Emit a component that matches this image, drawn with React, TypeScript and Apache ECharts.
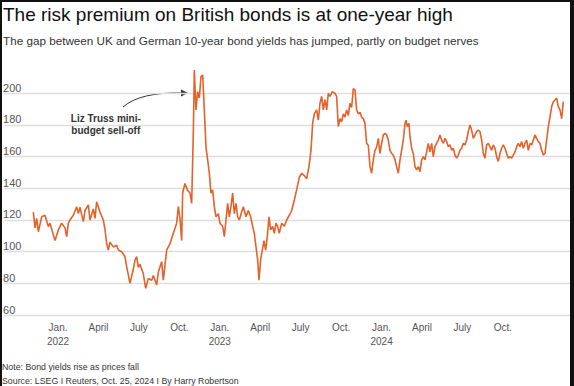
import React, { useEffect, useRef } from "react";
import * as echarts from "echarts";

// time index (~3.4 days per step, starting early Nov 2021) and UK-German 10y spread (bp)
const t = [
  0, 1, 2, 3, 5, 7, 9, 10, 12, 13, 15, 17, 19, 20, 21, 22, 24, 26, 27, 28, 30, 31, 33, 34, 36, 37, 38, 40,
  42, 43, 44, 45, 46, 48, 50, 51, 53, 55, 56, 58, 60, 61, 62, 63, 64, 66, 67.4, 69, 71, 72, 74, 75, 76, 77,
  78, 80, 82, 84, 86, 87, 88, 89, 89.6, 91, 92.4, 94, 95, 96, 96.6,
  97.6, 98.6, 99.6, 100.6, 101.6, 102.6, 103.6, 104.6, 105.6, 106.6, 107.6, 108.6, 109.6, 111, 112, 113.6,
  114.6, 115.6, 116.6, 117.6, 118.6, 119.6, 120.6, 121.6, 122.6, 123.6, 125, 126, 127.6, 129, 130.4, 131.6,
  132.6, 133.6, 134.6, 135.4, 136.4, 137.4, 138.4, 139.4, 140.4, 141.4, 142.4, 143.6, 144.6, 145.6, 146.6,
  147.6, 149, 150.6, 152, 153.6, 155, 156.6, 158, 159.6, 161, 162.6, 164, 165.4, 166.6, 167.6, 168.6, 170,
  171, 172, 173, 174, 175, 176, 177, 178, 179.4, 181, 182,
  183, 184, 185, 186, 187, 188, 189, 190, 191, 192, 193, 194, 195, 196, 197, 198, 199, 200, 201, 202, 203,
  204, 205, 206, 207, 208, 209, 210, 211, 212, 213, 214, 215, 216, 217, 218, 219, 220, 221, 222, 223, 223.6,
  224.4, 225.4, 226, 227, 228, 229, 230, 231, 232, 233, 234, 235, 236, 237, 238, 239, 240, 241, 242, 243,
  244, 245, 246, 247, 248, 249, 250, 251, 252, 253, 254, 255, 256, 257, 258, 259, 260, 261, 262, 263, 264,
  265, 266, 267, 268, 269, 270, 271, 272, 273, 274, 275, 276, 277, 278, 279, 280, 281, 282, 283, 284, 285,
  286, 287, 288, 289, 290, 291, 292, 293, 294, 295, 296, 297, 298, 299, 300, 301, 302, 303, 304, 305, 306,
  307, 308, 309, 310, 311, 312, 313, 314, 315, 316, 317, 318,
];

const spread = [
  125, 115, 121, 112.6, 122, 123, 115.8, 118, 110.5, 107, 113.7, 118, 115, 109.5, 118, 120, 123, 128.4, 124,
  128, 119, 126, 129.5, 120, 127, 121, 131.5, 125, 120, 114, 105, 101, 106, 103, 104, 101, 100, 96.8, 90.5,
  80, 89, 94.7, 96.8, 90, 92, 86, 76.8, 83, 82, 85, 79, 87, 90.5, 93.7, 82, 101, 105, 111.6, 118, 128.4, 121,
  107, 137, 143, 139, 137, 130.5, 175, 214.7,
  189.5, 201, 197, 210.5, 211.6, 189.5, 166, 158, 149.5, 137, 139, 128.4, 122, 124, 118, 116, 109.5, 120,
  130.5, 122, 128.4, 137, 124, 130.5, 122, 120, 125, 128.4, 122, 126, 122, 116, 111.6, 103, 95, 82, 95, 101,
  107, 101, 109.5, 122, 113.7, 116, 111.6, 118, 116, 111.6, 118, 116, 120, 123, 126, 132.6, 139, 147, 149.5,
  148, 146, 153.7, 164, 181, 187, 189.5, 183, 193.7, 198, 189.5, 196, 189.5, 200, 198, 201, 200, 198,
  179, 184, 182, 187, 185, 189.5, 186, 193.7, 191, 203, 202, 189.5, 187, 188, 185, 184, 181, 168.4, 167,
  153.7, 149.5, 158, 164, 166, 171.6, 162, 168.4, 173.7, 174.7, 173.7, 170.5, 164, 162, 161, 158, 153.7,
  149.5, 158, 164, 170.5, 181, 183, 178.9, 181, 172.6, 165.3, 162, 153.7, 151.6, 153.7, 150.5, 158, 160, 158,
  163, 168.4, 163, 168.4, 160, 166.3, 168.4, 170.5, 173.7, 170.5, 168.4, 171.6, 169.5, 166.3, 167.4, 164,
  165.3, 161, 159, 161, 164, 165.3, 168.4, 167.4, 170.5, 175.8, 180, 176.8, 171.6, 173.7, 175.8, 176.8,
  175.8, 170.5, 162, 159, 167.4, 168.4, 166.3, 164, 167.4, 165.3, 160, 157, 162, 165.3, 167.4, 165.3, 162,
  159, 160, 159, 161, 163, 166.3, 168.4, 166.3, 169.5, 165.3, 168.4, 170.5, 164, 168.4, 167.4, 170.5, 173.7,
  171.6, 169.5, 168.4, 164, 161, 162, 170.5, 179, 185, 191.6, 194.7, 195.8, 197, 191.6, 189.5, 184, 194.7,
];

// x-axis labels (months counted from Jan. 2022)
const tickMonths = [0, 3, 6, 9, 12, 15, 18, 21, 24, 27, 30, 33];
const tickLabels = [
  "Jan.\n2022", "April", "July", "Oct.",
  "Jan.\n2023", "April", "July", "Oct.",
  "Jan.\n2024", "April", "July", "Oct.",
];

const title = "The risk premium on British bonds is at one-year high";
const subtitle =
  "The gap between UK and German 10-year bond yields has jumped, partly on budget nerves";
const note = "Note: Bond yields rise as prices fall";
const source = "Source: LSEG I Reuters, Oct. 25, 2024 I By Harry Robertson";
const annotation = "Liz Truss mini-\nbudget sell-off";

export default function App() {
  const ref = useRef<HTMLDivElement>(null);
  useEffect(() => {
    const chart = echarts.init(ref.current as HTMLDivElement, null, { renderer: "svg" });
    const font = "'Liberation Sans', Arial, Helvetica, sans-serif";
    chart.setOption({
      animation: false,
      backgroundColor: "#ffffff",
      grid: { left: 4.1, right: 3.7, top: 93.3, bottom: 71, containLabel: false },
      xAxis: [
        { type: "value", min: -17.54, max: 322.2, show: false },
        {
          type: "value",
          min: -4,
          max: 38,
          interval: 1,
          position: "bottom",
          axisLine: { show: false },
          axisTick: { show: false },
          splitLine: { show: false },
          axisLabel: {
            formatter: (v: number) => {
              const i = tickMonths.indexOf(Math.round(v));
              return i >= 0 && Math.abs(v - Math.round(v)) < 1e-6 ? tickLabels[i] : "";
            },
            color: "#555",
            fontSize: 10,
            lineHeight: 14,
            margin: 5,
            fontFamily: font,
          },
        },
      ],
      yAxis: {
        type: "value",
        min: 60,
        max: 200,
        interval: 20,
        axisLine: { show: false },
        axisTick: { show: false },
        splitLine: { lineStyle: { color: "#dedede", width: 1.3 } },
        axisLabel: {
          inside: true,
          margin: -1,
          align: "left",
          verticalAlign: "bottom",
          color: "#555",
          fontSize: 11,
          fontFamily: font,
        },
      },
      series: [
        {
          type: "line",
          xAxisIndex: 0,
          data: t.map((x, i) => [x, spread[i]]),
          showSymbol: false,
          symbol: "none",
          clip: false,
          lineStyle: { color: "#e6612a", width: 1.6 },
          z: 5,
        },
      ],
      graphic: [
        { type: "rect", shape: { x: 0, y: 0, width: 2, height: 386 }, style: { fill: "#111" }, z: 100 },
        { type: "rect", shape: { x: 570, y: 0, width: 4, height: 386 }, style: { fill: "#111" }, z: 100 },
        { type: "rect", shape: { x: 0, y: 0, width: 574, height: 2 }, style: { fill: "#111" }, z: 100 },
        {
          type: "text",
          x: 3,
          y: 14,
          style: { text: title, fontSize: 19, fontFamily: font, fill: "#111", verticalAlign: "middle" },
        },
        {
          type: "text",
          x: 3,
          y: 40,
          style: { text: subtitle, fontSize: 11.7, fontFamily: font, fill: "#333", verticalAlign: "middle" },
        },
        {
          type: "text",
          x: 2,
          y: 367,
          style: { text: note, fontSize: 8.8, fontFamily: font, fill: "#333", verticalAlign: "middle" },
        },
        {
          type: "text",
          x: 2,
          y: 381,
          style: { text: source, fontSize: 8.8, fontFamily: font, fill: "#333", verticalAlign: "middle" },
        },
        {
          type: "text",
          x: 105.8,
          y: 124,
          style: {
            text: annotation,
            fontSize: 10,
            fontWeight: "bold",
            lineHeight: 12,
            fontFamily: font,
            fill: "#333",
            align: "center",
            verticalAlign: "middle",
          },
        },
        {
          type: "bezierCurve",
          shape: { x1: 123, y1: 107, x2: 182, y2: 93, cpx1: 140, cpy1: 92 },
          style: { stroke: "#333", lineWidth: 1, fill: "none" },
        },
        {
          type: "polygon",
          shape: { points: [[188, 93], [181, 89.5], [181, 96.5]] },
          style: { fill: "#333" },
        },
      ],
    });
    return () => chart.dispose();
  }, []);
  return <div ref={ref} style={{ position: "absolute", left: 0, top: 0, width: 574, height: 386 }} />;
}
